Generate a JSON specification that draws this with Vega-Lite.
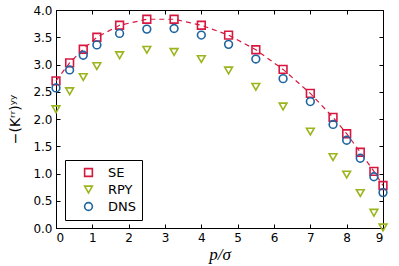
{
  "$schema": "https://vega.github.io/schema/vega-lite/v6.json",
  "width": 327,
  "height": 218,
  "autosize": {"type": "none"},
  "padding": {"left": 56, "top": 10, "right": 16, "bottom": 38},
  "config": {
    "font": "DejaVu Sans",
    "view": {"stroke": "black", "strokeWidth": 1},
    "axis": {"grid": false, "domainColor": "black", "tickColor": "black", "labelColor": "black", "labelFontSize": 12, "tickSize": -4, "labelPadding": 8, "labelFont": "DejaVu Sans"},
    "legend": {"orient": "none", "legendX": 9, "legendY": 150, "padding": 6, "strokeColor": "black", "cornerRadius": 0, "fillColor": "white", "labelFontSize": 13, "labelColor": "black", "symbolSize": 60, "symbolStrokeWidth": 1.6, "rowPadding": 2, "labelOffset": 13, "symbolOffset": 11, "symbolFillColor": "transparent"}
  },
  "data": {"values": [
    {"x": 0, "series": "SE", "y": 2.70},
    {"x": 0.375, "series": "SE", "y": 3.03},
    {"x": 0.75, "series": "SE", "y": 3.28},
    {"x": 1.125, "series": "SE", "y": 3.50},
    {"x": 1.75, "series": "SE", "y": 3.72},
    {"x": 2.5, "series": "SE", "y": 3.83},
    {"x": 3.25, "series": "SE", "y": 3.83},
    {"x": 4, "series": "SE", "y": 3.72},
    {"x": 4.75, "series": "SE", "y": 3.54},
    {"x": 5.5, "series": "SE", "y": 3.27},
    {"x": 6.25, "series": "SE", "y": 2.91},
    {"x": 7, "series": "SE", "y": 2.47},
    {"x": 7.625, "series": "SE", "y": 2.03},
    {"x": 8, "series": "SE", "y": 1.73},
    {"x": 8.375, "series": "SE", "y": 1.39},
    {"x": 8.75, "series": "SE", "y": 1.04},
    {"x": 9, "series": "SE", "y": 0.78},
    {"x": 0, "series": "RPY", "y": 2.18},
    {"x": 0.375, "series": "RPY", "y": 2.51},
    {"x": 0.75, "series": "RPY", "y": 2.77},
    {"x": 1.125, "series": "RPY", "y": 2.97},
    {"x": 1.75, "series": "RPY", "y": 3.17},
    {"x": 2.5, "series": "RPY", "y": 3.27},
    {"x": 3.25, "series": "RPY", "y": 3.23},
    {"x": 4, "series": "RPY", "y": 3.10},
    {"x": 4.75, "series": "RPY", "y": 2.89},
    {"x": 5.5, "series": "RPY", "y": 2.59},
    {"x": 6.25, "series": "RPY", "y": 2.23},
    {"x": 7, "series": "RPY", "y": 1.77},
    {"x": 7.625, "series": "RPY", "y": 1.30},
    {"x": 8, "series": "RPY", "y": 0.98},
    {"x": 8.375, "series": "RPY", "y": 0.64},
    {"x": 8.75, "series": "RPY", "y": 0.28},
    {"x": 9, "series": "RPY", "y": 0.01},
    {"x": 0, "series": "DNS", "y": 2.57},
    {"x": 0.375, "series": "DNS", "y": 2.90},
    {"x": 0.75, "series": "DNS", "y": 3.17},
    {"x": 1.125, "series": "DNS", "y": 3.36},
    {"x": 1.75, "series": "DNS", "y": 3.57},
    {"x": 2.5, "series": "DNS", "y": 3.65},
    {"x": 3.25, "series": "DNS", "y": 3.66},
    {"x": 4, "series": "DNS", "y": 3.54},
    {"x": 4.75, "series": "DNS", "y": 3.37},
    {"x": 5.5, "series": "DNS", "y": 3.10},
    {"x": 6.25, "series": "DNS", "y": 2.74},
    {"x": 7, "series": "DNS", "y": 2.32},
    {"x": 7.625, "series": "DNS", "y": 1.90},
    {"x": 8, "series": "DNS", "y": 1.61},
    {"x": 8.375, "series": "DNS", "y": 1.28},
    {"x": 8.75, "series": "DNS", "y": 0.94},
    {"x": 9, "series": "DNS", "y": 0.65}
  ]},
  "resolve": {"axis": {"x": "independent", "y": "independent"}},
  "layer": [
    {
      "transform": [{"filter": "datum.series === 'SE'"}],
      "mark": {"type": "line", "color": "#d8173f", "strokeDash": [5, 4], "strokeWidth": 1.2},
      "encoding": {
        "x": {"field": "x", "type": "quantitative", "scale": {"domain": [0, 9], "nice": false, "zero": false},
          "axis": {"title": "p/σ", "titleFont": "Liberation Serif", "titleFontStyle": "italic", "titleFontWeight": "normal", "titleFontSize": 17, "titlePadding": 3, "values": [0,1,2,3,4,5,6,7,8,9], "format": "d"}},
        "y": {"field": "y", "type": "quantitative", "scale": {"domain": [0, 4], "nice": false},
          "axis": {"title": "−(Kʳʳ)ʸʸ", "titleFontSize": 14, "titleFontWeight": "normal", "titlePadding": 10, "values": [0,0.5,1,1.5,2,2.5,3,3.5,4], "format": ".1f"}}
      }
    },
    {
      "mark": {"type": "point", "filled": false, "strokeWidth": 1.6, "opacity": 1},
      "encoding": {
        "x": {"field": "x", "type": "quantitative", "axis": {"orient": "top", "labels": false, "title": null, "domain": false, "values": [0,1,2,3,4,5,6,7,8,9]}},
        "y": {"field": "y", "type": "quantitative", "axis": {"orient": "right", "labels": false, "title": null, "domain": false, "values": [0,0.5,1,1.5,2,2.5,3,3.5,4]}},
        "shape": {"field": "series", "type": "nominal", "scale": {"domain": ["SE", "RPY", "DNS"], "range": ["square", "triangle-down", "circle"]}, "legend": {"title": null}},
        "color": {"field": "series", "type": "nominal", "scale": {"domain": ["SE", "RPY", "DNS"], "range": ["#d8173f", "#9ab51e", "#1f65a0"]}, "legend": {"title": null}},
        "size": {"value": 60}
      }
    }
  ]
}
